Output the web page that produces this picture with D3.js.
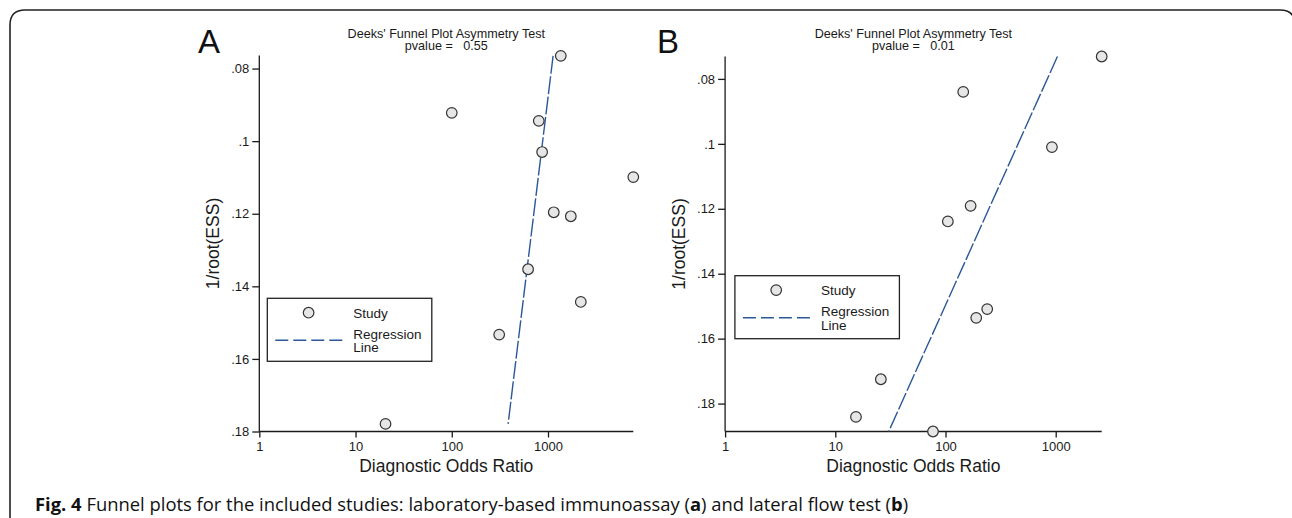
<!DOCTYPE html>
<html><head><meta charset="utf-8">
<script src="https://cdn.jsdelivr.net/npm/d3@7"></script>
<style>body{margin:0;background:#fff} svg{display:block}</style>
</head><body><svg id="c" width="1292" height="518"></svg>
<script>
// ---------- DATA ----------
const panelLabels = ["A", "B"];
const titleLine1 = "Deeks' Funnel Plot Asymmetry Test";
const pvalues = ["0.55", "0.01"];
const xTickValues = [1, 10, 100, 1000];
const xTickLabels = ["1", "10", "100", "1000"];
const yTickValues = [0.08, 0.10, 0.12, 0.14, 0.16, 0.18];
const yTickLabels = [".08", ".1", ".12", ".14", ".16", ".18"];
const xAxisTitle = "Diagnostic Odds Ratio";
const yAxisTitle = "1/root(ESS)";
const legendLabels = ["Study", "Regression", "Line"];

// Panel A: laboratory-based immunoassay
const dorA = [1358, 100, 802, 869, 7700, 1148, 1726, 621, 2192, 311, 20.5];
const essA = [0.0765, 0.0922, 0.0944, 0.1030, 0.1099, 0.1196, 0.1207, 0.1353, 0.1443, 0.1533, 0.1779];
const regEssA = [0.0765, 0.1779];
const regDorA = [1130, 385];
const xDomainA = [1, 7700];
const yDomainA = [0.0764, 0.18];

// Panel B: lateral flow test
const dorB = [2614, 144.8, 924, 169, 105, 239, 190, 25.9, 15.4, 77];
const essB = [0.0731, 0.0840, 0.1010, 0.1191, 0.1239, 0.1509, 0.1536, 0.1725, 0.1841, 0.1886];
const regEssB = [0.0731, 0.1886];
const regDorB = [1036, 30.5];
const xDomainB = [1, 2614];
const yDomainB = [0.0731, 0.1886];

const captionParts = [
  {t: "Fig. 4", b: true},
  {t: " Funnel plots for the included studies: laboratory-based immunoassay (", b: false},
  {t: "a", b: true},
  {t: ") and lateral flow test (", b: false},
  {t: "b", b: true},
  {t: ")", b: false}
];

// ---------- LAYOUT ----------
const panels = [
  {label: panelLabels[0], p: pvalues[0], dor: dorA, ess: essA, regE: regEssA, regD: regDorA,
   xd: xDomainA, yd: yDomainA, x0: 259.3, x1: 633.3, y0: 55.5, y1: 431.5,
   labX: 198, legX: 267.3, legY: 298.3},
  {label: panelLabels[1], p: pvalues[1], dor: dorB, ess: essB, regE: regEssB, regD: regDorB,
   xd: xDomainB, yd: yDomainB, x0: 725.1, x1: 1101.7, y0: 56.5, y1: 431.5,
   labX: 657, legX: 734.9, legY: 275.7}
];

const svg = d3.select("#c");
const SANS = "'Liberation Sans', Arial, Helvetica, sans-serif";
const ink = "#1a1a1a";
const lineBlue = "#2b5797";

// Frame
svg.append("path")
  .attr("d", "M10,530 L10,25 Q10,10 25,10 L1280,10 Q1295,10 1295,25 L1295,530")
  .attr("fill", "none").attr("stroke", "#222").attr("stroke-width", 1.6);

panels.forEach(P => {
  const x = d3.scaleLog().domain(P.xd).range([P.x0, P.x1]);
  const y = d3.scaleLinear().domain(P.yd).range([P.y0, P.y1]);
  const g = svg.append("g");

  // y axis
  const yt = yTickValues.filter(v => v >= P.yd[0] - 1e-9 && v <= P.yd[1] + 1e-9);
  const yAxis = d3.axisLeft(y).tickValues(yt)
    .tickFormat(v => yTickLabels[yTickValues.indexOf(v)])
    .tickSize(7).tickPadding(3);
  const ga = g.append("g").attr("transform", `translate(${P.x0},0)`).call(yAxis);
  ga.select(".domain").attr("d", `M0,${P.y0}V${P.y1}`);

  // x axis
  const xAxis = d3.axisBottom(x).tickValues(xTickValues)
    .tickFormat((v, i) => xTickLabels[i]).tickSize(6).tickPadding(4);
  const gx = g.append("g").attr("transform", `translate(0,${P.y1})`).call(xAxis);
  gx.select(".domain").attr("d", `M${P.x0},0H${P.x1}`);

  [ga, gx].forEach(a => {
    a.selectAll("path,line").attr("stroke", ink).attr("stroke-width", 1.3);
    a.selectAll("text").attr("font-family", SANS).attr("font-size", 13).attr("fill", ink);
  });

  // axis titles
  const cx = (P.x0 + P.x1) / 2, cy = (P.y0 + P.y1) / 2;
  g.append("text").attr("x", cx).attr("y", 471.5).attr("text-anchor", "middle")
    .attr("font-family", SANS).attr("font-size", 17.5).attr("fill", ink).text(xAxisTitle);
  g.append("text").attr("transform", `translate(${P.x0 - 46},${cy}) rotate(-90)`)
    .attr("text-anchor", "middle").attr("dominant-baseline", "central")
    .attr("font-family", SANS).attr("font-size", 17.5).attr("fill", ink).text(yAxisTitle);

  // titles
  g.append("text").attr("x", cx).attr("y", 37.5).attr("text-anchor", "middle")
    .attr("font-family", SANS).attr("font-size", 12.6).attr("fill", ink).text(titleLine1);
  g.append("text").attr("x", cx).attr("y", 50).attr("text-anchor", "middle")
    .attr("font-family", SANS).attr("font-size", 12.6).attr("fill", ink)
    .style("white-space", "pre").text("pvalue =   " + P.p);

  // panel letter
  g.append("text").attr("x", P.labX).attr("y", 52.5)
    .attr("font-family", SANS).attr("font-size", 33).attr("fill", "#111").text(P.label);

  // regression line
  const reg = P.regE.map((e, i) => [P.regD[i], e]);
  g.append("path").datum(reg)
    .attr("d", d3.line().x(d => x(d[0])).y(d => y(d[1])))
    .attr("fill", "none").attr("stroke", lineBlue).attr("stroke-width", 1.4)
    .attr("stroke-dasharray", "18,2.5");

  // points
  g.selectAll("circle.pt").data(P.dor.map((d, i) => [d, P.ess[i]])).enter()
    .append("circle").attr("class", "pt")
    .attr("cx", d => x(d[0])).attr("cy", d => y(d[1])).attr("r", 5.3)
    .attr("fill", "#e6e6e6").attr("stroke", "#333").attr("stroke-width", 1.2);

  // legend
  const L = g.append("g").attr("transform", `translate(${P.legX},${P.legY})`);
  L.append("rect").attr("x", 0).attr("y", 0).attr("width", 164.5).attr("height", 63)
    .attr("fill", "#fff").attr("stroke", "#222").attr("stroke-width", 1.3);
  L.append("circle").attr("cx", 41.3).attr("cy", 14.4).attr("r", 5.3)
    .attr("fill", "#e6e6e6").attr("stroke", "#333").attr("stroke-width", 1.2);
  L.append("line").attr("x1", 8).attr("x2", 76).attr("y1", 42).attr("y2", 42)
    .attr("stroke", lineBlue).attr("stroke-width", 1.4).attr("stroke-dasharray", "13,5");
  [[19.3, 0], [40.7, 1], [53.9, 2]].forEach(([yy, k]) => {
    L.append("text").attr("x", 86).attr("y", yy)
      .attr("font-family", SANS).attr("font-size", 13.5).attr("fill", ink).text(legendLabels[k]);
  });
});

// caption
const cap = svg.append("text").attr("x", 35).attr("y", 511)
  .attr("font-family", "'Open Sans', 'Noto Sans', sans-serif").attr("font-size", 16).attr("fill", "#111");
captionParts.forEach(p => cap.append("tspan").attr("font-weight", p.b ? 700 : 400).text(p.t));
const w = cap.node().getComputedTextLength();
cap.attr("font-size", 16 * 874 / w);
</script></body></html>
